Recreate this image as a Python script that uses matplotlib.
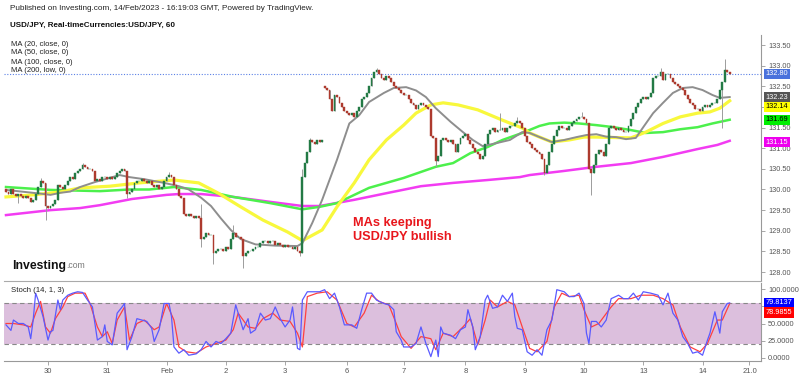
import numpy as np
import matplotlib
matplotlib.use('Agg')
import matplotlib.pyplot as plt
import matplotlib.transforms as mtransforms

plt.rcParams['font.family'] = ['Liberation Sans', 'DejaVu Sans']

# hourly closes, one per bar (bar 0 = first candle on the left)
closes = [
    129.95, 129.9, 130.0, 129.9, 129.85, 129.9, 129.85, 129.8, 129.85, 129.8, 129.7, 129.75,
    129.9, 130.05, 130.2, 130.15, 129.6, 129.55, 129.6, 129.65, 129.75, 130.1, 130.05, 130.0,
    130.1, 130.2, 130.3, 130.25, 130.4, 130.45, 130.5, 130.6, 130.55, 130.5, 130.5, 130.45,
    130.2, 130.25, 130.2, 130.3, 130.3, 130.25, 130.3, 130.25, 130.3, 130.4, 130.45, 130.5,
    130.45, 129.9, 129.95, 130.0, 130.15, 130.2, 130.2, 130.25, 130.2, 130.15, 130.2, 130.1,
    130.05, 130.1, 130.0, 130.05, 130.2, 130.3, 130.35, 130.3, 130.1, 130.0, 129.85, 129.8,
    129.4, 129.35, 129.4, 129.35, 129.3, 129.35, 129.3, 128.8, 128.85, 128.95, 128.9, 128.9,
    128.45, 128.5, 128.55, 128.55, 128.5, 128.6, 128.55, 128.8, 128.95, 128.85, 128.85, 128.8,
    128.4, 128.45, 128.5, 128.5, 128.55, 128.6, 128.6, 128.7, 128.75, 128.75, 128.7, 128.75,
    128.75, 128.65, 128.7, 128.65, 128.6, 128.65, 128.6, 128.6, 128.55, 128.6, 128.5, 128.45,
    130.3, 130.65, 130.9, 131.2, 131.15, 131.1, 131.2, 131.15, 131.2, 132.45, 132.4, 132.2,
    131.9, 132.3, 132.25, 132.1, 132.0, 131.9, 131.85, 131.8, 131.85, 131.75, 131.9, 132.0,
    132.2, 132.25, 132.35, 132.5, 132.7, 132.85, 132.9, 132.8, 132.7, 132.65, 132.75, 132.7,
    132.6, 132.5, 132.45, 132.4, 132.35, 132.3, 132.3, 132.2, 132.1, 132.05, 131.95, 132.05,
    132.1, 132.05, 132.0, 131.95, 131.3, 131.25, 130.7, 130.8, 131.2, 131.25, 131.2, 131.15,
    131.2, 131.1, 130.9, 131.1, 131.25, 131.3, 131.35, 131.2, 131.1, 131.0, 130.9, 130.85,
    130.75, 130.8, 131.1, 131.35, 131.45, 131.5, 131.4, 131.45, 131.45, 131.5, 131.4, 131.5,
    131.55, 131.55, 131.6, 131.65, 131.6, 131.5, 131.3, 131.15, 131.1, 131.0, 130.95, 130.9,
    130.85, 130.75, 130.4, 130.6, 130.9, 131.1, 131.3, 131.45, 131.55, 131.5, 131.5, 131.45,
    131.55, 131.6, 131.65, 131.7, 131.75, 131.75, 131.7, 131.6, 130.5, 130.4, 130.6, 130.85,
    130.95, 130.9, 130.8, 131.1, 131.5, 131.55, 131.5, 131.45, 131.5, 131.45, 131.4, 131.4,
    131.55, 131.7, 131.85, 132.0, 132.1, 132.2, 132.25, 132.2, 132.25, 132.35, 132.7, 132.75,
    132.75, 132.85, 132.65, 132.8, 132.8, 132.7, 132.6, 132.55, 132.5, 132.45, 132.4, 132.3,
    132.2, 132.1, 132.05, 131.95, 131.95, 131.9, 132.0, 132.05, 132.0, 132.05, 132.1, 132.1,
    132.2, 132.4, 132.6, 132.9, 132.85, 132.8,
]
first_open = 130.0
gap_bar, gap_open = 129, 132.5  # monday open after the weekend

# visible wicks
hi_bars = [14, 31, 66, 79, 92, 120, 123, 150, 200, 207, 233, 265, 291]
hi_vals = [130.28, 130.65, 130.43, 129.65, 129.13, 130.5, 131.25, 132.95, 131.85, 131.75, 131.88, 132.95, 133.15]
lo_bars = [5, 16, 49, 79, 84, 96, 119, 174, 218, 237, 290]
lo_vals = [129.67, 129.26, 129.8, 128.6, 128.2, 128.1, 128.4, 130.55, 130.35, 129.87, 131.5]

# moving averages
ma20_bar = [0, 14, 18, 22, 26, 30, 36, 46, 50, 56, 64, 70, 74, 79, 83, 87, 91, 95, 101, 109,
            118, 120, 124, 128, 134, 139, 143, 147, 153, 157, 162, 166, 170, 174, 180, 185, 189, 193, 199, 204,
            209, 212, 216, 221, 226, 231, 235, 239, 243, 247, 251, 255, 258, 262, 266, 270, 274, 278, 282, 286,
            289, 293]
ma20_val = [129.99, 129.9, 129.87, 129.92, 129.95, 130.06, 130.18, 130.35, 130.3, 130.25,
            130.16, 130.08, 130.0, 129.8, 129.6, 129.3, 129.02, 128.8, 128.67, 128.64,
            128.63, 128.7, 129.19, 129.75, 130.72, 131.6, 131.8, 132.12, 132.34, 132.46,
            132.48, 132.4, 132.24, 131.97, 131.64, 131.39, 131.2, 131.05, 131.13, 131.2,
            131.39, 131.37, 131.27, 131.15, 131.2, 131.27, 131.32, 131.34, 131.28, 131.27,
            131.22, 131.25, 131.51, 131.85, 132.1, 132.34, 132.46, 132.48, 132.41, 132.29,
            132.22, 132.24]

ma50_bar = [0, 11, 22, 30, 42, 54, 68, 78, 86, 95, 104, 114, 120, 128, 134, 141, 147, 154, 161, 166,
            172, 177, 183, 191, 201, 209, 212, 216, 221, 228, 234, 239, 246, 253, 259, 266, 273, 280, 285, 289, 293]
ma50_val = [129.82, 129.87, 129.94, 130.04, 130.08, 130.16, 130.23, 130.16, 129.91, 129.58,
            129.26, 128.97, 128.76, 129.02, 129.58, 130.16, 130.72, 131.2, 131.56, 131.85,
            132.05, 132.1, 132.05, 131.93, 131.68, 131.49, 131.37, 131.27, 131.15, 131.2, 131.27,
            131.27, 131.26, 131.25, 131.39, 131.6, 131.76, 131.85, 131.88, 131.97, 132.15]

ma100_bar = [0, 18, 38, 50, 58, 68, 79, 92, 107, 120, 127, 134, 147, 161, 174, 181, 188, 195, 201, 209,
             216, 220, 226, 232, 239, 246, 253, 259, 266, 273, 280, 286, 293]
ma100_val = [130.06, 129.99, 129.96, 130.0, 130.0, 130.06, 129.99, 129.82, 129.67, 129.52, 129.58,
             129.67, 130.04, 130.28, 130.55, 130.64, 130.88, 131.03, 131.2, 131.37,
             131.54, 131.6, 131.62, 131.6, 131.56, 131.51, 131.44, 131.37, 131.39, 131.46,
             131.51, 131.6, 131.69]

ma200_bar = [0, 18, 30, 38, 51, 65, 70, 79, 92, 107, 120, 127, 141, 154, 168, 181, 195, 208, 212, 226,
             239, 253, 266, 280, 288, 293]
ma200_val = [129.38, 129.5, 129.55, 129.62, 129.77, 129.87, 129.89, 129.89, 129.82, 129.7,
             129.6, 129.6, 129.75, 129.91, 130.08, 130.16, 130.23, 130.3, 130.35, 130.45,
             130.55, 130.64, 130.79, 130.98, 131.08, 131.18]

# stochastic (14, 1, 3): (bar, value)
stoch_k = [(0, 48), (2, 40), (3, 55), (5, 50), (7, 50), (9, 45), (10, 28), (11, 55), (12, 94), (13, 84),
           (15, 60), (17, 26), (18, 38), (19, 40), (21, 84), (22, 70), (23, 84), (25, 91), (27, 94), (29, 96),
           (31, 95), (33, 84), (35, 74), (37, 26), (39, 31), (40, 48), (41, 24), (43, 19), (45, 65), (47, 74),
           (48, 79), (49, 12), (51, 31), (53, 57), (55, 55), (57, 53), (59, 43), (60, 24), (62, 41), (64, 79),
           (66, 79), (67, 60), (68, 16), (70, 7), (72, 12), (74, 4), (77, 6), (79, 12), (81, 24), (83, 16),
           (85, 24), (87, 21), (89, 28), (91, 36), (93, 77), (94, 65), (96, 41), (98, 57), (99, 36), (101, 41),
           (103, 65), (105, 55), (107, 57), (109, 74), (111, 57), (113, 45), (115, 55), (116, 74), (118, 14),
           (119, 12), (120, 84), (122, 96), (124, 96), (127, 96), (129, 99), (131, 86), (133, 94), (135, 74),
           (137, 48), (140, 48), (142, 43), (144, 70), (146, 94), (148, 94), (150, 84), (153, 79), (155, 77),
           (157, 70), (158, 38), (160, 26), (161, 16), (164, 16), (166, 21), (168, 45), (170, 21), (172, 2),
           (174, 26), (175, 2), (176, 45), (177, 36), (180, 33), (182, 28), (184, 41), (186, 45), (187, 70),
           (189, 45), (190, 12), (192, 31), (194, 84), (195, 91), (197, 72), (199, 74), (201, 91), (203, 82),
           (205, 94), (206, 60), (207, 43), (209, 41), (211, 9), (213, 4), (215, 12), (217, 4), (219, 41),
           (221, 55), (223, 99), (226, 96), (228, 89), (230, 89), (232, 94), (234, 79), (235, 36), (236, 21),
           (237, 53), (239, 53), (241, 45), (243, 55), (245, 86), (248, 91), (250, 86), (252, 86), (254, 94),
           (256, 84), (258, 96), (261, 94), (264, 91), (266, 77), (268, 94), (270, 65), (272, 55), (274, 31),
           (276, 21), (278, 7), (280, 9), (282, 4), (284, 26), (285, 36), (287, 67), (289, 36), (290, 67),
           (292, 79), (293, 79.81)]
stoch_d = [(0, 50), (3, 50), (7, 48), (10, 45), (12, 65), (14, 82), (16, 45), (18, 36), (20, 57), (23, 74),
           (25, 89), (28, 94), (32, 94), (34, 79), (37, 45), (39, 31), (41, 38), (43, 21), (45, 55), (48, 74),
           (50, 26), (53, 50), (56, 55), (60, 41), (62, 45), (65, 79), (68, 55), (70, 16), (73, 9), (77, 7),
           (81, 16), (85, 21), (89, 26), (92, 41), (94, 65), (98, 45), (101, 43), (104, 57), (108, 65), (111, 55),
           (115, 53), (118, 36), (120, 16), (122, 89), (126, 94), (130, 96), (134, 84), (138, 50), (141, 45),
           (145, 65), (148, 91), (151, 82), (155, 77), (158, 50), (160, 31), (164, 14), (168, 31), (172, 28),
           (174, 12), (177, 36), (181, 31), (185, 45), (188, 57), (191, 19), (194, 55), (196, 84), (199, 74),
           (203, 82), (206, 77), (209, 45), (212, 14), (215, 9), (219, 24), (222, 74), (225, 94), (228, 89),
           (232, 91), (234, 70), (237, 45), (240, 50), (245, 74), (248, 86), (253, 86), (257, 91), (262, 91),
           (266, 86), (270, 77), (273, 45), (277, 16), (281, 9), (284, 21), (288, 55), (290, 55), (293, 78.99)]

day_bars = [17, 41, 65, 89, 113, 138, 161, 186, 210, 234, 258, 282, 301]
day_labels = ['30', '31', 'Feb', '2', '3', '6', '7', '8', '9', '10', '13', '14', '21.0']

price_ticks = [128.0, 128.5, 129.0, 129.5, 130.0, 130.5, 131.0, 131.5, 132.0, 132.5, 133.0, 133.5]
hidden_price_ticks = [132.0]      # sits under the coloured tags
stoch_ticks = [0, 25, 50, 75, 100]
hidden_stoch_ticks = [75]

last_price = 132.80
# right-hand tags: text, where it sits, box colour, text colour
main_tags = [('132.80', 132.80, '#4a72dc', 'white'),
             ('132.23', 132.23, '#555555', 'white'),
             ('132.14', 132.00, '#ffff00', 'black'),
             ('131.69', 131.69, '#00ee00', 'black'),
             ('131.15', 131.15, '#ee00ee', 'white')]
stoch_tags = [('79.8137', 79.81, '#0000ff', 'white'),
              ('78.9855', 66.0, '#ff0000', 'white')]

W, H = 800, 376
fig = plt.figure(figsize=(W / 100, H / 100), dpi=100, facecolor='white')


def px_box(left, top, right, bottom):
    return [left / W, 1 - bottom / H, (right - left) / W, (bottom - top) / H]


ax = fig.add_axes(px_box(4, 35, 761, 281))
ax2 = fig.add_axes(px_box(4, 283, 761, 361), sharex=ax)

# candles
c = np.array(closes)
idx = np.arange(len(c))
o = np.r_[first_open, c[:-1]]
o[gap_bar] = gap_open
hi = np.maximum(o, c)
lo = np.minimum(o, c)
hi[hi_bars] = hi_vals
lo[lo_bars] = lo_vals
up = c >= o
ax.vlines(idx, lo, hi, color='#9c9c9c', lw=0.7, zorder=3)
body_col = np.where(up, '#237a45', '#ad3a2e')
ax.bar(idx, c - o, bottom=o, width=0.75, color=body_col, edgecolor=body_col, linewidth=0.3, zorder=4)

ax.plot(ma200_bar, ma200_val, color='#f23cf2', lw=1.8, zorder=2)
ax.plot(ma100_bar, ma100_val, color='#4cf04c', lw=1.8, zorder=2)
ax.plot(ma50_bar, ma50_val, color='#f8f83c', lw=2.3, zorder=2)
ax.plot(ma20_bar, ma20_val, color='#8e8e8e', lw=1.4, zorder=2)
ax.axhline(last_price, color='#5b80e6', lw=0.8, ls=(0, (1, 1.5)), zorder=1)

# price scale: 41.27 px per yen, 130.00 at y=189.5 px
ax.set_ylim(130 + (189.5 - 281) / 41.27, 130 + (189.5 - 35) / 41.27)
ax.set_xlim((4 - 6) / 2.47, (761 - 6) / 2.47)
ax.yaxis.tick_right()
ax.set_yticks(price_ticks)
ax.set_yticklabels(['' if v in hidden_price_ticks else f'{v:.2f}' for v in price_ticks])
ax.tick_params(axis='y', length=3, width=0.6, color='#999999', labelsize=5.3, labelcolor='#555555', pad=2)
ax.tick_params(axis='x', bottom=False, labelbottom=False)
for s in ['top', 'left']:
    ax.spines[s].set_visible(False)
ax.spines['right'].set_color('#999999')
ax.spines['bottom'].set_color('#aaaaaa')
ax.spines['bottom'].set_linewidth(0.8)

# stochastic pane
kb, kv = zip(*stoch_k)
db, dv = zip(*stoch_d)
ax2.axhspan(20, 80, color='#dcbfdd', lw=0, zorder=0)
ax2.axhline(80, color='#888888', lw=0.8, ls=(0, (4, 3)), zorder=1)
ax2.axhline(20, color='#888888', lw=0.8, ls=(0, (4, 3)), zorder=1)
ax2.plot(db, dv, color='#ff4040', lw=0.9, zorder=2)
ax2.plot(kb, kv, color='#5a5aff', lw=0.9, zorder=3)
ax2.set_ylim((358 - 361) / 0.69, (358 - 283) / 0.69)
ax2.yaxis.tick_right()
ax2.set_yticks(stoch_ticks)
ax2.set_yticklabels(['' if v in hidden_stoch_ticks else f'{v:.4f}' for v in stoch_ticks])
ax2.tick_params(axis='y', length=3, width=0.6, color='#999999', labelsize=5.3, labelcolor='#555555', pad=2)
ax2.set_xticks(day_bars)
ax2.set_xticklabels(day_labels)
ax2.tick_params(axis='x', length=3, width=0.6, color='#999999', labelsize=5.5, labelcolor='#555555', pad=2)
for s in ['top', 'left']:
    ax2.spines[s].set_visible(False)
ax2.spines['right'].set_color('#999999')
ax2.spines['bottom'].set_color('#999999')


def tag(axis, text, y, fc, tc):
    trans = mtransforms.blended_transform_factory(axis.transAxes, axis.transData)
    axis.text(1.006, y, text, transform=trans, ha='left', va='center', fontsize=5.3, color=tc,
              bbox=dict(boxstyle='square,pad=0.22', fc=fc, ec='none'), zorder=10, clip_on=False)


for t, y, fc, tc in main_tags:
    tag(ax, t, y, fc, tc)
for t, y, fc, tc in stoch_tags:
    tag(ax2, t, y, fc, tc)


def ftext(x, y, s, **kw):
    return fig.text(x / W, 1 - y / H, s, va='center', **kw)


ftext(10, 8, 'Published on Investing.com, 14/Feb/2023 - 16:19:03 GMT, Powered by TradingView.',
      fontsize=5.9, color='#222222')
ftext(10, 25, 'USD/JPY, Real-timeCurrencies:USD/JPY, 60', fontsize=5.8, weight='bold', color='#111111')
for k, s in enumerate(['MA (20, close, 0)', 'MA (50, close, 0)', 'MA (100, close, 0)', 'MA (200, low, 0)']):
    ftext(11, 44 + 9 * k, s, fontsize=5.5, color='#222222')

ftext(353, 223, 'MAs keeping', fontsize=9.2, weight='bold', color='#e8161c')
ftext(353, 237, 'USD/JPY bullish', fontsize=9.2, weight='bold', color='#e8161c')

logo = ftext(12, 266, 'Investing', fontsize=8.8, weight='bold', color='#111111')
ax.annotate('.com', xy=(1, 0), xycoords=logo, xytext=(0.5, 1.5), textcoords='offset points',
            fontsize=6.2, color='#777777', va='bottom', ha='left', annotation_clip=False)

ftext(11, 291, 'Stoch (14, 1, 3)', fontsize=5.6, color='#222222')

fig.savefig('out.png', dpi=100, facecolor='white')
